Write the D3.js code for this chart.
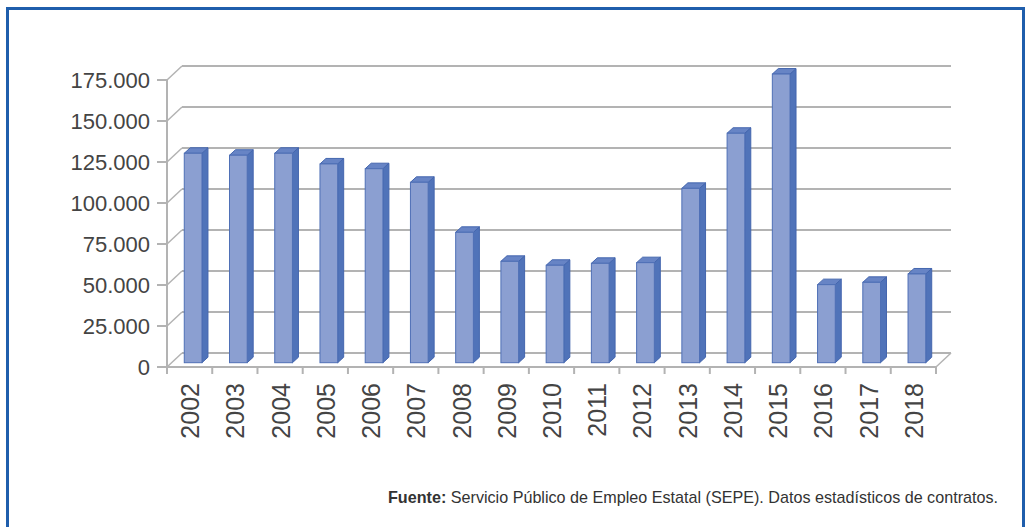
<!DOCTYPE html>
<html>
<head>
<meta charset="utf-8">
<script src="https://cdn.jsdelivr.net/npm/d3@7"></script>
<style>
  body { margin: 0; background: #fff; }
  svg { display: block; }
</style>
</head>
<body>
<div id="chart"></div>
<script>
// Data
const years = ["2002", "2003", "2004", "2005", "2006", "2007", "2008", "2009", "2010",
               "2011", "2012", "2013", "2014", "2015", "2016", "2017", "2018"]
const contratos = [127700, 126500, 127700, 121200, 118300, 110000, 79500, 61800, 59400,
                   60600, 61000, 106300, 139900, 176000, 47600, 49000, 54100]
const yTicks = [0, 25000, 50000, 75000, 100000, 125000, 150000, 175000]
const fuenteBold = "Fuente:"
const fuenteText = " Servicio Público de Empleo Estatal (SEPE). Datos estadísticos de contratos."

const w = 1028
const h = 527

const svg = d3.select("#chart")
    .append("svg")
    .attr("width", w)
    .attr("height", h)

// blue frame
svg.append("rect")
    .attr("x", 7.5).attr("y", 8.5)
    .attr("width", 1016).attr("height", 540)
    .attr("fill", "none")
    .attr("stroke", "#1f5eac")
    .attr("stroke-width", 3)

// Scales
const x = d3.scaleBand().domain(years).range([167, 936])
const y = d3.scaleLinear().domain([0, 175000]).range([367, 80])

// depth of the 3d wall
const dx = 15, dy = -14
const grid_col = "#b3b3b3"

const grid = svg.append("g")

// back wall gridlines + left wall diagonals
grid.selectAll("line.back")
    .data(yTicks)
    .enter()
    .append("line")
    .attr("x1", x.range()[0] + dx).attr("x2", x.range()[1] + dx)
    .attr("y1", d => y(d) + dy).attr("y2", d => y(d) + dy)
    .attr("stroke", grid_col).attr("stroke-width", 2)

grid.selectAll("line.diag")
    .data(yTicks)
    .enter()
    .append("line")
    .attr("x1", x.range()[0]).attr("x2", x.range()[0] + dx)
    .attr("y1", d => y(d)).attr("y2", d => y(d) + dy)
    .attr("stroke", grid_col).attr("stroke-width", 1.5)

// floor right edge
grid.append("line")
    .attr("x1", x.range()[1]).attr("x2", x.range()[1] + dx)
    .attr("y1", y(0)).attr("y2", y(0) + dy)
    .attr("stroke", grid_col).attr("stroke-width", 1.5)

// front y axis line and ticks
grid.append("line")
    .attr("x1", x.range()[0]).attr("x2", x.range()[0])
    .attr("y1", y(175000)).attr("y2", y(0) + 7)
    .attr("stroke", grid_col).attr("stroke-width", 2)

grid.selectAll("line.ytick")
    .data(yTicks)
    .enter()
    .append("line")
    .attr("x1", x.range()[0] - 10).attr("x2", x.range()[0])
    .attr("y1", d => y(d)).attr("y2", d => y(d))
    .attr("stroke", grid_col).attr("stroke-width", 2)

// front x axis
grid.append("line")
    .attr("x1", x.range()[0]).attr("x2", x.range()[1])
    .attr("y1", y(0)).attr("y2", y(0))
    .attr("stroke", grid_col).attr("stroke-width", 2)

const boundaries = years.map(d => x(d)).concat([x.range()[1]])
grid.selectAll("line.xtick")
    .data(boundaries)
    .enter()
    .append("line")
    .attr("x1", d => d).attr("x2", d => d)
    .attr("y1", y(0)).attr("y2", y(0) + 7)
    .attr("stroke", grid_col).attr("stroke-width", 2)

// y labels
svg.selectAll("text.ylab")
    .data(yTicks)
    .enter()
    .append("text")
    .attr("x", 150)
    .attr("y", d => y(d))
    .attr("dy", "0.36em")
    .attr("text-anchor", "end")
    .style("font-family", "'Liberation Sans', Arial, sans-serif")
    .style("font-size", "22px")
    .style("fill", "#444")
    .text(d => d === 0 ? "0" : d3.format(",")(d).replace(/,/g, "."))

// x labels (rotated)
svg.selectAll("text.xlab")
    .data(years)
    .enter()
    .append("text")
    .attr("transform", d => "translate(" + (x(d) + x.bandwidth() / 2 + 0.5) + ",383) rotate(-90)")
    .attr("text-anchor", "end")
    .attr("dy", "0.36em")
    .style("font-family", "'Liberation Sans Narrow', 'Arial Narrow', sans-serif")
    .style("font-size", "25px")
    .style("fill", "#444")
    .text(d => d)

// Bars (3d columns)
const bw = 17.7          // front face width
const bd = 6, bdy = -5.5 // bar depth
const ox = 3.5, oy = -4.3 // bar placed a bit inside the floor

const bars = svg.selectAll("g.bar")
    .data(years.map((d, i) => ({year: d, value: contratos[i]})))
    .enter()
    .append("g")

function bx(d) { return x(d.year) + x.bandwidth() / 2 - bw / 2 + ox }
function by(v) { return y(v) + oy }

bars.append("polygon") // side
    .attr("points", d => {
        const x1 = bx(d) + bw
        return [[x1, by(d.value)], [x1 + bd, by(d.value) + bdy],
                [x1 + bd, by(0) + bdy], [x1, by(0)]].join(" ")
    })
    .attr("fill", "#5073b9")
    .attr("stroke", "#4466ae")
    .attr("stroke-width", 1)

bars.append("polygon") // top
    .attr("points", d => {
        const x0 = bx(d), yt = by(d.value)
        return [[x0, yt], [x0 + bd, yt + bdy], [x0 + bw + bd, yt + bdy], [x0 + bw, yt]].join(" ")
    })
    .attr("fill", "#6784c5")
    .attr("stroke", "#4466ae")
    .attr("stroke-width", 1)

bars.append("rect") // front
    .attr("x", d => bx(d))
    .attr("y", d => by(d.value))
    .attr("width", bw)
    .attr("height", d => by(0) - by(d.value))
    .attr("fill", "#8b9fd1")
    .attr("stroke", "#4f70b6")
    .attr("stroke-width", 1)

// Source note
const note = svg.append("text")
    .attr("x", 998)
    .attr("y", 503)
    .attr("text-anchor", "end")
    .style("font-family", "'Liberation Sans Narrow', 'Arial Narrow', sans-serif")
    .style("font-size", "17px")
    .style("fill", "#333")
note.append("tspan").style("font-weight", "bold").text(fuenteBold)
note.append("tspan").text(fuenteText)

// stretch the note to the reference width if the narrow face differs
const bb = note.node().getBBox()
if (Math.abs(bb.width - 610) > 15) {
    note.attr("textLength", 610).attr("lengthAdjust", "spacingAndGlyphs")
}
</script>
</body>
</html>
